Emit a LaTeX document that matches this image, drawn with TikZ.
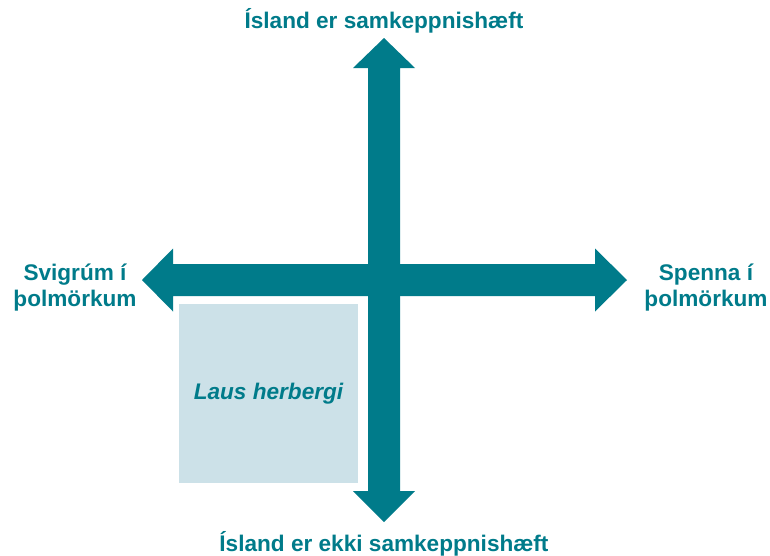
\documentclass[tikz,border=0pt]{standalone}
\usepackage{fontspec}
\setmainfont{Liberation Sans}
\definecolor{teal1}{HTML}{007B8A}
\definecolor{pale}{HTML}{CCE1E8}
\begin{document}
\begin{tikzpicture}[x=1pt,y=-1pt,
  lbl/.style={text=teal1,font=\fontsize{22.6}{26}\selectfont\bfseries,align=center,inner sep=0pt},
  arrowshape/.style={fill=teal1,draw=none}]
\useasboundingbox (0,0) rectangle (770,555);
% light box
\fill[pale] (179,304) rectangle (358,483);
\node[lbl,font=\fontsize{22.6}{26}\selectfont\bfseries\itshape] (laus) at (268.5,394) {Laus herbergi};
% vertical double arrow
\fill[arrowshape] (384,38) -- (415,68) -- (400,68) -- (400,491) -- (415,491) -- (384,522)
  -- (353,491) -- (368,491) -- (368,68) -- (353,68) -- cycle;
% horizontal double arrow
\fill[arrowshape] (142,280) -- (173,248.5) -- (173,264) -- (595,264) -- (595,248.5) -- (627,280)
  -- (595,311.5) -- (595,296) -- (173,296) -- (173,311.5) -- cycle;
% labels
\node[lbl] (top) at (384,21) {Ísland er samkeppnishæft};
\node[lbl] (bottom) at (384,544) {Ísland er ekki samkeppnishæft};
\node[lbl] (left) at (75,288) {Svigrúm í\\þolmörkum};
\node[lbl] (right) at (706,288) {Spenna í\\þolmörkum};
\end{tikzpicture}
\end{document}
